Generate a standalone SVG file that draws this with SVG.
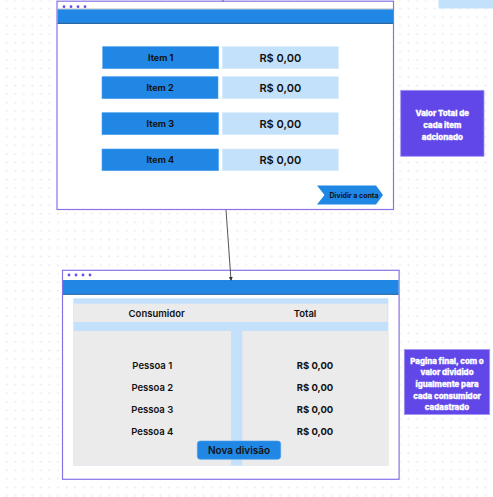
<svg xmlns="http://www.w3.org/2000/svg" width="493" height="497" viewBox="0 0 493 497">
<style>
text{font-family:Inter,"Liberation Sans",sans-serif;fill:#111;text-anchor:middle;dominant-baseline:central}
.frame{fill:#fff;stroke:#8a72e6;stroke-width:1.2}
.bar{fill:#2187e4}
.barline{stroke:#1f5b94;stroke-width:1}
.item{fill:#2187e4;stroke:#4aa0ee;stroke-width:0.6}
.val{fill:#c4e1fb;stroke:#d8ecfd;stroke-width:0.6}
.it{font-size:9px;font-weight:700}
.vt{font-size:11px;font-weight:600}
.gray{fill:#ebebeb}
.tt{font-size:9.5px;font-weight:600}
.pt{font-size:9.5px;font-weight:600}
.pv{font-size:9.5px;font-weight:700}
.note{fill:#6147e8;stroke:#a394f2;stroke-width:0.8}
.nt{fill:#fff;stroke:#fff;stroke-width:0.3;font-size:7.9px;font-weight:800}
</style>
<defs>
<pattern id="grid" x="2.4" y="-4.3" width="8.55" height="8.55" patternUnits="userSpaceOnUse">
<path d="M4.3 3.3v2M3.3 4.3h2" stroke="#e9e9e9" stroke-width="0.9"/>
</pattern>
<marker id="arr" markerWidth="4" markerHeight="4" refX="3" refY="2" orient="auto" markerUnits="userSpaceOnUse">
<path d="M0 0L4 2L0 4z" fill="#333"/>
</marker>
</defs>
<rect width="493" height="497" fill="#fff"/>
<rect width="493" height="497" fill="url(#grid)"/>
<g id="top-corner">
<rect x="438.5" y="-1" width="56" height="9.5" fill="#c4e1fb"/>
</g>
<g id="screen-items">
<rect class="frame" x="57" y="1.2" width="336.5" height="208.3"/>
<g fill="#6a50ea"><circle cx="64" cy="6.7" r="1.4"/><circle cx="71" cy="6.7" r="1.4"/><circle cx="78" cy="6.7" r="1.4"/><circle cx="85" cy="6.7" r="1.4"/></g>
<line x1="57.6" y1="9" x2="393" y2="9" stroke="#aaa" stroke-width="0.8"/>
<rect class="bar" x="57.6" y="9.4" width="335.4" height="14"/>
<line class="barline" x1="57.6" y1="23.4" x2="393" y2="23.4"/>
<g id="item1"><rect class="item" x="102.7" y="46.7" width="116" height="22"/><text class="it" x="160.7" y="57.7">Item 1</text>
<rect class="val" x="222.3" y="46.7" width="116" height="22"/><text class="vt" x="280.3" y="57.7">R$ 0,00</text></g>
<g id="item2"><rect class="item" x="102" y="76.7" width="116" height="22"/><text class="it" x="160" y="87.7">Item 2</text>
<rect class="val" x="222.3" y="76.7" width="116" height="22"/><text class="vt" x="280.3" y="87.7">R$ 0,00</text></g>
<g id="item3"><rect class="item" x="102" y="112.7" width="116.5" height="22"/><text class="it" x="160.3" y="123.7">Item 3</text>
<rect class="val" x="222.3" y="112.7" width="116" height="22"/><text class="vt" x="280.3" y="123.7">R$ 0,00</text></g>
<g id="item4"><rect class="item" x="102" y="149" width="116.5" height="21.7"/><text class="it" x="160.3" y="159.8">Item 4</text>
<rect class="val" x="222.3" y="149" width="116" height="21.7"/><text class="vt" x="280.3" y="159.8">R$ 0,00</text></g>
<g id="dividir">
<path d="M317 185.5H376L383 195L376 204.5H317L324.5 195Z" fill="#2187e4"/>
<text x="354" y="195" style="font-size:7px;font-weight:700">Dividir a conta</text>
</g>
</g>
<g id="note-items">
<rect class="note" x="400.7" y="90.3" width="83.3" height="66"/>
<text class="nt" x="442.3" y="113.3">Valor Total de</text>
<text class="nt" x="442.3" y="125.3">cada item</text>
<text class="nt" x="442.3" y="136.5">adcionado</text>
</g>
<g id="screen-division">
<rect class="frame" x="62.5" y="270.3" width="336.6" height="209"/>
<g fill="#6a50ea"><circle cx="69" cy="275" r="1.4"/><circle cx="76" cy="275" r="1.4"/><circle cx="83" cy="275" r="1.4"/><circle cx="90" cy="275" r="1.4"/></g>
<rect class="bar" x="63" y="280" width="335.6" height="14.3"/>
<line class="barline" x1="63" y1="294.3" x2="398.6" y2="294.3"/>
<rect x="73.3" y="298.3" width="315" height="167.4" fill="#c4e1fb"/>
<rect class="gray" x="73.5" y="303.7" width="314" height="18.3"/>
<rect class="gray" x="73.3" y="331" width="157.7" height="134.7"/>
<rect class="gray" x="242.3" y="331" width="146.7" height="134.7"/>
<text class="tt" x="156.7" y="313">Consumidor</text>
<text class="tt" x="305" y="313.5">Total</text>
<g id="p1"><text class="pt" x="152.3" y="365.7">Pessoa 1</text><text class="pv" x="315" y="365.7">R$ 0,00</text></g>
<g id="p2"><text class="pt" x="152.3" y="387.7">Pessoa 2</text><text class="pv" x="315" y="387.7">R$ 0,00</text></g>
<g id="p3"><text class="pt" x="152.3" y="409.7">Pessoa 3</text><text class="pv" x="315" y="409.7">R$ 0,00</text></g>
<g id="p4"><text class="pt" x="152.3" y="431.5">Pessoa 4</text><text class="pv" x="315" y="431.5">R$ 0,00</text></g>
<g id="nova">
<rect x="197.3" y="441" width="83.4" height="18.3" rx="3" fill="#2187e4" stroke="#4aa0ee" stroke-width="0.6"/>
<text x="239" y="450.2" style="font-size:10px;font-weight:600">Nova divisão</text>
</g>
</g>
<g id="note-division">
<rect class="note" x="404.3" y="349.5" width="85.4" height="65"/>
<text class="nt" x="447" y="360.7">Pagina final, com o</text>
<text class="nt" x="447" y="372.3">valor dividido</text>
<text class="nt" x="447" y="384">igualmente para</text>
<text class="nt" x="447" y="395.5">cada consumidor</text>
<text class="nt" x="447" y="407">cadastrado</text>
</g>
<g id="connectors">
<line x1="223" y1="0" x2="223" y2="1.5" stroke="#555" stroke-width="1"/>
<line x1="226" y1="210" x2="231" y2="280" stroke="#555" stroke-width="1" marker-end="url(#arr)"/>
</g>
</svg>
